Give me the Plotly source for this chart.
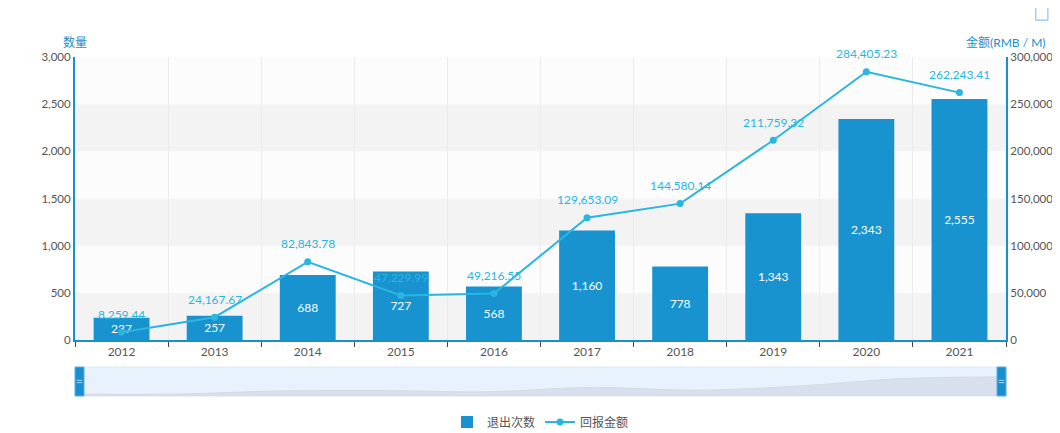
import plotly.graph_objects as go

# datos
years = ["2012", "2013", "2014", "2015", "2016", "2017", "2018", "2019", "2020", "2021"]
exit_counts = [237, 257, 688, 727, 568, 1160, 778, 1343, 2343, 2555]
return_amounts = [8259.44, 24167.67, 82843.78, 47229.99, 49216.55,
                  129653.09, 144580.14, 211759.32, 284405.23, 262243.41]

bar_color = "#1992d0"
line_color = "#29b6e0"
axis_blue = "#1890d0"
label_gray = "#555555"
font_family = "Lato, Noto Sans CJK SC"

fig = go.Figure()

fig.add_trace(go.Bar(
    x=years, y=exit_counts, name="退出次数",
    marker=dict(color=bar_color, line=dict(width=0)),
    width=0.6,
    texttemplate="%{y:,}", textposition="inside", insidetextanchor="middle",
    textfont=dict(color="white", size=12, family=font_family),
    xaxis="x", yaxis="y",
))

fig.add_trace(go.Scatter(
    x=years, y=return_amounts, name="回报金额",
    mode="lines+markers",
    line=dict(color=line_color, width=2),
    marker=dict(color=line_color, size=7),
    xaxis="x", yaxis="y2",
))

# sombra del dataZoom
fig.add_trace(go.Scatter(
    x=list(range(len(years))), y=exit_counts,
    mode="lines", fill="tozeroy",
    line=dict(color="#d3dbe4", width=1, shape="spline"),
    fillcolor="rgba(200,210,222,0.55)",
    showlegend=False, hoverinfo="skip",
    xaxis="x2", yaxis="y3",
))

# el navegador deja 8px de margen en el body: la figura se corre 8px
main_dom = [0.2473, 1.0]
slider_dom = [0.0984, 0.1755]

shapes = []
# bandas alternas de fondo
for i in range(6):
    shapes.append(dict(
        type="rect", xref="x domain", yref="y", x0=0, x1=1,
        y0=i * 500, y1=(i + 1) * 500,
        fillcolor="#f3f3f3" if i % 2 == 0 else "#fcfcfc",
        line=dict(width=0), layer="below",
    ))
# fondo del slider
shapes.append(dict(
    type="rect", xref="x2 domain", yref="y3 domain", x0=0, x1=1, y0=0, y1=1,
    fillcolor="#e8f2fc", line=dict(color="#dce8f4", width=1), layer="below",
))
# manijas
for x0, x1 in [(0, 0.0097), (0.9903, 1)]:
    shapes.append(dict(
        type="rect", xref="x2 domain", yref="y3 domain", x0=x0, x1=x1, y0=0, y1=1,
        fillcolor=axis_blue, line=dict(color="#62b0e0", width=1),
    ))
    for yy in (0.46, 0.54):
        shapes.append(dict(
            type="line", xref="x2 domain", yref="y3 domain",
            x0=x0 + 0.002, x1=x1 - 0.002, y0=yy, y1=yy,
            line=dict(color="#a8d4f0", width=1),
        ))
# icono de guardar arriba a la derecha
shapes.append(dict(
    type="rect", xref="paper", yref="paper", x0=1.032, x1=1.045, y0=1.098, y1=1.134,
    line=dict(color="#8cc4ea", width=1.2), fillcolor="rgba(0,0,0,0)",
))

# etiquetas de la linea, un poco por encima de cada punto
annotations = [
    dict(x=i, y=val, xref="x", yref="y2", text=f"{val:,.2f}", showarrow=False,
         yanchor="middle", yshift=18, font=dict(size=12, color=line_color))
    for i, val in enumerate(return_amounts)
]
annotations += [
    dict(text="数量", xref="paper", yref="paper", x=0, y=1, xanchor="center",
         yanchor="bottom", yshift=5, showarrow=False,
         font=dict(size=12, color=axis_blue)),
    dict(text="金额(RMB / M)", xref="paper", yref="paper", x=1, y=1, xanchor="center",
         yanchor="bottom", yshift=5, showarrow=False,
         font=dict(size=12, color=axis_blue)),
]

fig.update_layout(
    width=1052, height=425,
    margin=dict(l=67, r=54, t=49, b=0, autoexpand=False),
    paper_bgcolor="white", plot_bgcolor="white",
    font=dict(family=font_family, size=12, color=label_gray),
    uniformtext=dict(minsize=12, mode="show"),
    bargap=0.4,
    shapes=shapes,
    annotations=annotations,
    showlegend=True,
    legend=dict(orientation="h", x=0.5, xanchor="center", y=0.0293, yanchor="middle",
                font=dict(size=12, color=label_gray), itemwidth=30, tracegroupgap=0),
    xaxis=dict(
        type="category", domain=[0, 1], anchor="y", automargin=False,
        range=[-0.5, len(years) - 0.5], autorange=False,
        showline=True, linecolor=axis_blue, linewidth=2,
        ticks="outside", tickson="boundaries", ticklen=5, tickcolor="#444",
        showgrid=True, gridcolor="#ebebeb", gridwidth=1,
        tickfont=dict(size=12, color=label_gray),
        fixedrange=True,
    ),
    yaxis=dict(
        domain=main_dom, range=[0, 3000], dtick=500, tickformat=",", automargin=False,
        showline=True, linecolor=axis_blue, linewidth=2,
        showgrid=False, zeroline=False, ticks="",
        tickfont=dict(size=11.5, color=label_gray),
    ),
    yaxis2=dict(
        overlaying="y", side="right", anchor="x", automargin=False,
        range=[0, 300000], dtick=50000, tickformat=",",
        showline=True, linecolor=axis_blue, linewidth=2,
        showgrid=False, zeroline=False, ticks="",
        tickfont=dict(size=11.5, color=label_gray),
    ),
    xaxis2=dict(
        domain=[0, 1], anchor="y3", range=[0, len(years) - 1],
        visible=False, fixedrange=True,
    ),
    yaxis3=dict(
        domain=slider_dom, range=[0, 3900], visible=False, fixedrange=True,
    ),
)

fig.write_html("out.html")
